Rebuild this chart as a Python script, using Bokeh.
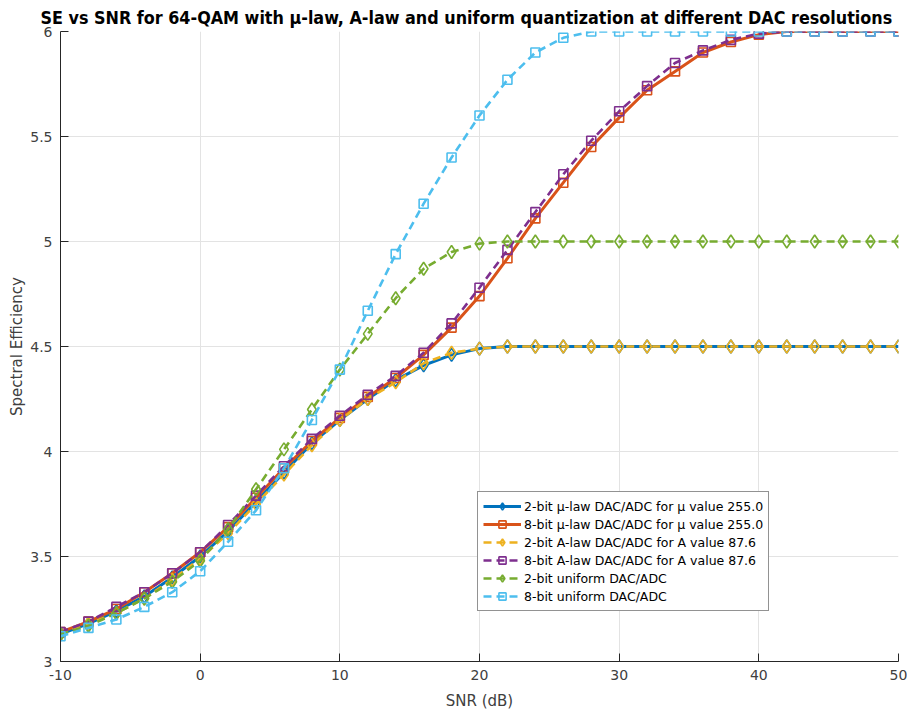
from bokeh.plotting import figure
from bokeh.models import FixedTicker, Legend, LegendItem, Range1d
from bokeh.embed import file_html
from bokeh.resources import INLINE

snr = [-10, -8, -6, -4, -2, 0, 2, 4, 6, 8, 10, 12, 14, 16, 18, 20,
       22, 24, 26, 28, 30, 32, 34, 36, 38, 40, 42, 44, 46, 48, 50]

mu2 = [3.13, 3.18, 3.24, 3.31, 3.40, 3.50, 3.62, 3.76, 3.90, 4.04, 4.15, 4.25, 4.34, 4.41, 4.46, 4.49,
       4.50, 4.50, 4.50, 4.50, 4.50, 4.50, 4.50, 4.50, 4.50, 4.50, 4.50, 4.50, 4.50, 4.50, 4.50]
mu8 = [3.14, 3.19, 3.25, 3.33, 3.42, 3.52, 3.64, 3.78, 3.92, 4.05, 4.16, 4.26, 4.35, 4.46, 4.59, 4.74,
       4.92, 5.11, 5.28, 5.45, 5.59, 5.72, 5.81, 5.90, 5.95, 5.985, 6.0, 6.0, 6.0, 6.0, 6.0]
a2 = [3.13, 3.18, 3.23, 3.30, 3.39, 3.49, 3.61, 3.75, 3.89, 4.03, 4.15, 4.25, 4.33, 4.42, 4.47, 4.49,
      4.50, 4.50, 4.50, 4.50, 4.50, 4.50, 4.50, 4.50, 4.50, 4.50, 4.50, 4.50, 4.50, 4.50, 4.50]
a8 = [3.14, 3.19, 3.26, 3.33, 3.42, 3.52, 3.65, 3.79, 3.93, 4.06, 4.17, 4.27, 4.36, 4.47, 4.61, 4.78,
      4.96, 5.14, 5.32, 5.48, 5.62, 5.74, 5.85, 5.91, 5.96, 5.99, 6.0, 6.0, 6.0, 6.0, 6.0]
u2 = [3.13, 3.17, 3.23, 3.30, 3.38, 3.48, 3.63, 3.82, 4.01, 4.20, 4.39, 4.56, 4.73, 4.87, 4.95, 4.99,
      5.0, 5.0, 5.0, 5.0, 5.0, 5.0, 5.0, 5.0, 5.0, 5.0, 5.0, 5.0, 5.0, 5.0, 5.0]
u8 = [3.12, 3.16, 3.20, 3.26, 3.33, 3.43, 3.57, 3.72, 3.92, 4.15, 4.39, 4.67, 4.94, 5.18, 5.40, 5.60,
      5.77, 5.90, 5.97, 6.0, 6.0, 6.0, 6.0, 6.0, 6.0, 6.0, 6.0, 6.0, 6.0, 6.0, 6.0]

labels = ["2-bit \u03bc-law DAC/ADC for \u03bc value 255.0",
          "8-bit \u03bc-law DAC/ADC for \u03bc value 255.0",
          "2-bit A-law DAC/ADC for A value 87.6",
          "8-bit A-law DAC/ADC for A value 87.6",
          "2-bit uniform DAC/ADC",
          "8-bit uniform DAC/ADC"]
series = [mu2, mu8, a2, a8, u2, u8]
colors = ["#0072BD", "#D95319", "#EDB120", "#7E2F8E", "#77AC30", "#4DBEEE"]
dashes = ["solid", "solid", "8 5", "8 5", "8 5", "8 5"]
markers = ["diamond", "square", "diamond", "square", "diamond", "square"]

x_ticks = [-10, 0, 10, 20, 30, 40, 50]
x_tick_labels = ["-10", "0", "10", "20", "30", "40", "50"]
y_ticks = [3, 3.5, 4, 4.5, 5, 5.5, 6]
y_tick_labels = ["3", "3.5", "4", "4.5", "5", "5.5", "6"]

FONT = "DejaVu Sans"
TXT = "#404040"
W, H = 907, 712
BL, BR, BB = 60, 9, 50

p = figure(width=W, height=H, output_backend="svg", toolbar_location=None,
           x_range=Range1d(-10, 50), y_range=Range1d(3, 6),
           min_border_left=BL, min_border_right=BR, min_border_bottom=BB, min_border_top=0,
           title="SE vs SNR for 64-QAM with \u03bc-law, A-law and uniform quantization at different DAC resolutions")
p.title.text_font = "DejaVu Sans Condensed"
p.title.text_font_size = "17.8px"
p.title.text_font_style = "bold"
p.title.text_color = "#000000"
p.title.align = "left"
p.title.offset = -20
p.title.standoff = 8
p.outline_line_color = None
p.background_fill_color = "white"
p.border_fill_color = "white"

for ax in (p.xaxis[0], p.yaxis[0]):
    ax.axis_line_color = "#262626"
    ax.major_tick_line_color = "#262626"
    ax.major_tick_in = 8
    ax.major_tick_out = 0
    ax.minor_tick_line_color = None
    ax.major_label_text_font = FONT
    ax.major_label_text_font_size = "14px"
    ax.major_label_text_color = TXT
    ax.axis_label_text_font = FONT
    ax.axis_label_text_font_size = "15px"
    ax.axis_label_text_font_style = "normal"
    ax.axis_label_text_color = TXT

p.xaxis.ticker = FixedTicker(ticks=x_ticks)
p.yaxis.ticker = FixedTicker(ticks=y_ticks)
p.xaxis.major_label_overrides = {t: l for t, l in zip(x_ticks, x_tick_labels)}
p.yaxis.major_label_overrides = {t: l for t, l in zip(y_ticks, y_tick_labels)}
p.xaxis.axis_label = "SNR (dB)"
p.yaxis.axis_label = "Spectral Efficiency"
p.xaxis.major_label_standoff = 8
p.xaxis.axis_label_standoff = 9
p.yaxis.major_label_standoff = 8
p.yaxis.axis_label_standoff = 1

p.grid.grid_line_color = "#e3e3e3"
p.grid.grid_line_width = 1

items = []
for lab, ys, c, d, m in zip(labels, series, colors, dashes, markers):
    lr = p.line(snr, ys, line_color=c, line_width=3 if d == "solid" else 2.6, line_dash=d)
    sr = p.scatter(snr, ys, marker=m, size=13 if m == "diamond" else 9,
                   line_color=c, line_width=1.6, fill_alpha=0)
    items.append(LegendItem(label=lab, renderers=[lr, sr]))

legend = Legend(items=items, location=(417, 50))
legend.border_line_color = "#262626"
legend.border_line_width = 1
legend.background_fill_color = "white"
legend.background_fill_alpha = 1
legend.label_text_font = FONT
legend.label_text_font_size = "12.5px"
legend.label_text_color = "#000000"
legend.glyph_width = 38
legend.glyph_height = 18
legend.label_height = 18
legend.spacing = 0
legend.padding = 5
legend.margin = 0
legend.label_standoff = 3
p.add_layout(legend, "center")

open("out.html", "w").write(file_html(p, INLINE))
